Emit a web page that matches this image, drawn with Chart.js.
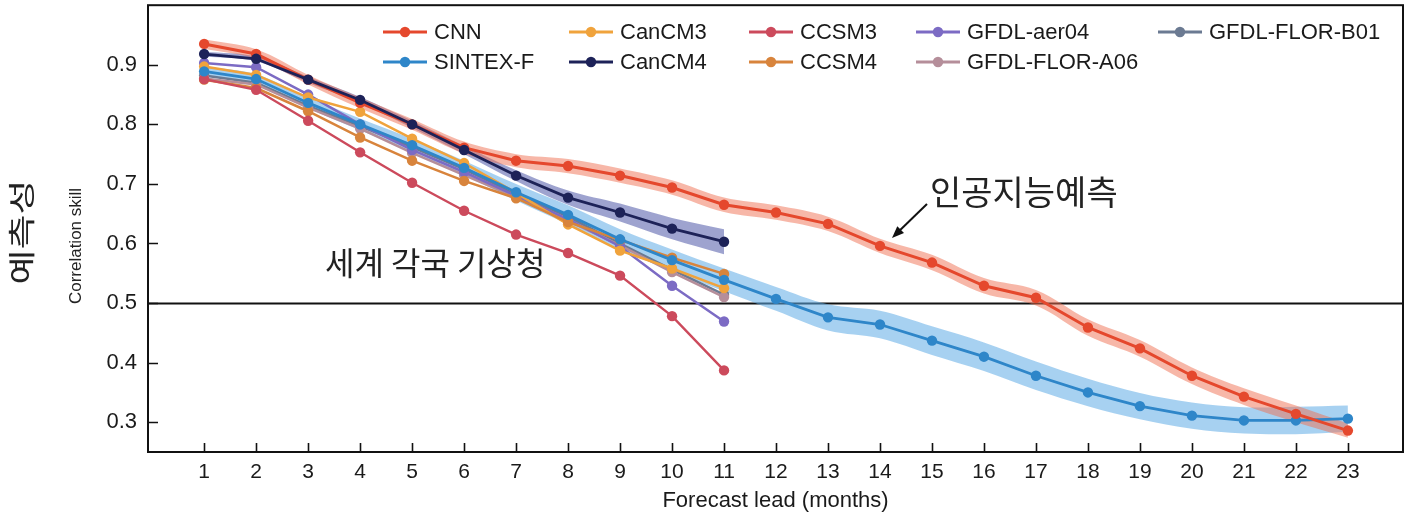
<!DOCTYPE html>
<html lang="ko">
<head>
<meta charset="utf-8">
<script src="https://cdn.jsdelivr.net/npm/chart.js@4.4.1/dist/chart.umd.min.js"></script>
<style>
    html, body { margin: 0; padding: 0; background: #fff; }
    #contenedor { width: 1411px; height: 519px; }
</style>
</head>
<body>
<div id="contenedor"><canvas id="grafico" width="1411" height="519"></canvas></div>
<script>
// Datos
const leads = [1, 2, 3, 4, 5, 6, 7, 8, 9, 10, 11, 12, 13, 14, 15, 16, 17, 18, 19, 20, 21, 22, 23];
const modelLeads = [1, 2, 3, 4, 5, 6, 7, 8, 9, 10, 11];
const leadTicks = [1, 2, 3, 4, 5, 6, 7, 8, 9, 10, 11, 12, 13, 14, 15, 16, 17, 18, 19, 20, 21, 22, 23];
const skillTicks = [0.3, 0.4, 0.5, 0.6, 0.7, 0.8, 0.9];

const cnn = [0.935, 0.918, 0.875, 0.836, 0.800, 0.761, 0.739, 0.730, 0.714, 0.694, 0.665, 0.652, 0.633, 0.596, 0.568, 0.529, 0.509, 0.459, 0.424, 0.378, 0.343, 0.314, 0.286];
const sintexF = [0.889, 0.876, 0.836, 0.800, 0.765, 0.727, 0.686, 0.648, 0.607, 0.572, 0.539, 0.507, 0.476, 0.464, 0.437, 0.410, 0.378, 0.350, 0.327, 0.311, 0.303, 0.303, 0.306];
const canCM3 = [0.897, 0.883, 0.845, 0.821, 0.776, 0.735, 0.685, 0.632, 0.588, 0.558, 0.525];
const canCM4 = [0.918, 0.910, 0.875, 0.841, 0.800, 0.757, 0.714, 0.677, 0.652, 0.625, 0.603];
const ccsm3 = [0.876, 0.858, 0.806, 0.753, 0.702, 0.655, 0.615, 0.584, 0.546, 0.478, 0.387];
const ccsm4 = [0.875, 0.861, 0.822, 0.778, 0.739, 0.705, 0.676, 0.636, 0.606, 0.576, 0.549];
const gfdlAer04 = [0.903, 0.896, 0.850, 0.800, 0.757, 0.720, 0.680, 0.641, 0.595, 0.529, 0.469];
const gfdlFlorA06 = [0.877, 0.867, 0.828, 0.793, 0.752, 0.715, 0.678, 0.638, 0.597, 0.552, 0.510];
const gfdlFlorB01 = [0.882, 0.870, 0.831, 0.797, 0.762, 0.725, 0.683, 0.645, 0.600, 0.556, 0.514];

// Semiancho de las bandas de incertidumbre
const cnnSpread = [0.008, 0.008, 0.008, 0.009, 0.009, 0.010, 0.011, 0.012, 0.012, 0.012, 0.012, 0.012, 0.012, 0.012, 0.013, 0.013, 0.013, 0.014, 0.014, 0.014, 0.014, 0.014, 0.012];
const sintexSpread = [0.008, 0.008, 0.009, 0.010, 0.011, 0.012, 0.014, 0.016, 0.017, 0.018, 0.019, 0.020, 0.022, 0.023, 0.024, 0.024, 0.024, 0.023, 0.022, 0.022, 0.022, 0.023, 0.022];
const canCM4Spread = [0.004, 0.004, 0.005, 0.005, 0.006, 0.007, 0.009, 0.012, 0.015, 0.018, 0.021];

const fuente = "'Liberation Sans', Arial, sans-serif";
const fuenteKr = "'Noto Sans CJK KR', sans-serif";

const series = [
    { label: "CNN", xs: leads, ys: cnn, color: "#e5482d", order: 2, width: 3 },
    { label: "SINTEX-F", xs: leads, ys: sintexF, color: "#2e86c9", order: 3, width: 2.8 },
    { label: "CanCM3", xs: modelLeads, ys: canCM3, color: "#f0a33c", order: 6, width: 2.5 },
    { label: "CanCM4", xs: modelLeads, ys: canCM4, color: "#1d2258", order: 1, width: 2.8 },
    { label: "CCSM3", xs: modelLeads, ys: ccsm3, color: "#cc4a5c", order: 4, width: 2.4 },
    { label: "CCSM4", xs: modelLeads, ys: ccsm4, color: "#d8843c", order: 5, width: 2.5 },
    { label: "GFDL-aer04", xs: modelLeads, ys: gfdlAer04, color: "#7c6bc4", order: 7, width: 2.5 },
    { label: "GFDL-FLOR-A06", xs: modelLeads, ys: gfdlFlorA06, color: "#b58e9a", order: 8, width: 2.5 },
    { label: "GFDL-FLOR-B01", xs: modelLeads, ys: gfdlFlorB01, color: "#6b7a92", order: 9, width: 2.5 }
];

// Orden de la leyenda: columnas de dos filas
const legendOrder = ["CNN", "SINTEX-F", "CanCM3", "CanCM4", "CCSM3", "CCSM4", "GFDL-aer04", "GFDL-FLOR-A06", "GFDL-FLOR-B01"];

const puntos = (xs, ys) => ys.map((v, i) => ({ x: xs[i], y: v }));

const banda = (xs, ys, spread, color) => [
    {
        data: ys.map((v, i) => ({ x: xs[i], y: v - spread[i] })),
        borderWidth: 0,
        pointRadius: 0,
        fill: false,
        tension: 0.35,
        order: 20
    },
    {
        data: ys.map((v, i) => ({ x: xs[i], y: v + spread[i] })),
        borderWidth: 0,
        pointRadius: 0,
        fill: "-1",
        backgroundColor: color,
        tension: 0.35,
        order: 20
    }
];

const datasets = [
    ...banda(leads, cnn, cnnSpread, "rgba(240, 112, 82, 0.5)"),
    ...banda(leads, sintexF, sintexSpread, "rgba(95, 172, 230, 0.55)"),
    ...banda(modelLeads, canCM4, canCM4Spread, "rgba(62, 72, 160, 0.5)"),
    ...series.map(s => ({
        label: s.label,
        data: puntos(s.xs, s.ys),
        borderColor: s.color,
        backgroundColor: s.color,
        borderWidth: s.width,
        pointRadius: 5.2,
        pointBorderWidth: 0,
        pointBackgroundColor: s.color,
        tension: 0,
        fill: false,
        order: s.order
    }))
];

const marcoPlugin = {
    id: "marco",

    beforeDatasetsDraw(chart) {
        const { ctx, chartArea: a, scales: { y } } = chart;
        const y05 = Math.round(y.getPixelForValue(0.5)) + 0.5;

        ctx.save();
        ctx.strokeStyle = "#111";
        ctx.lineWidth = 2;
        ctx.beginPath();
        ctx.moveTo(a.left, y05);
        ctx.lineTo(a.right, y05);
        ctx.stroke();
        ctx.restore();
    },

    afterDraw(chart) {
        const { ctx, chartArea: a, scales: { x, y } } = chart;

        ctx.save();

        // Marco y marcas hacia adentro
        ctx.strokeStyle = "#111";
        ctx.lineWidth = 2;
        ctx.strokeRect(a.left, a.top, a.right - a.left, a.bottom - a.top);

        ctx.beginPath();
        leadTicks.forEach(v => {
            const px = Math.round(x.getPixelForValue(v)) + 0.5;
            ctx.moveTo(px, a.bottom);
            ctx.lineTo(px, a.bottom - 9);
        });
        skillTicks.forEach(v => {
            const py = Math.round(y.getPixelForValue(v)) + 0.5;
            ctx.moveTo(a.left, py);
            ctx.lineTo(a.left + 10, py);
        });
        ctx.lineWidth = 1.6;
        ctx.stroke();

        // Leyenda
        const colX = [383, 569, 749, 916, 1158];
        const rowY = [32, 62];
        ctx.font = `22px ${fuente}`;
        ctx.textBaseline = "middle";
        ctx.textAlign = "left";

        legendOrder.forEach((nombre, i) => {
            const s = series.find(item => item.label === nombre);
            const lx = colX[Math.floor(i / 2)];
            const ly = rowY[i % 2];

            ctx.strokeStyle = s.color;
            ctx.lineWidth = 2.8;
            ctx.beginPath();
            ctx.moveTo(lx, ly);
            ctx.lineTo(lx + 44, ly);
            ctx.stroke();

            ctx.fillStyle = s.color;
            ctx.beginPath();
            ctx.arc(lx + 22, ly, 5.2, 0, Math.PI * 2);
            ctx.fill();

            ctx.fillStyle = "#1a1a1a";
            ctx.fillText(nombre, lx + 51, ly + 1);
        });

        // Título del eje Y
        ctx.save();
        ctx.translate(76, 246);
        ctx.rotate(-Math.PI / 2);
        ctx.font = `17px ${fuente}`;
        ctx.fillStyle = "#222";
        ctx.textAlign = "center";
        ctx.textBaseline = "middle";
        ctx.fillText("Correlation skill", 0, 0);
        ctx.restore();

        // Rótulo coreano del eje
        ctx.save();
        ctx.translate(22, 232);
        ctx.rotate(-Math.PI / 2);
        ctx.scale(1, 0.72);
        ctx.font = `38px ${fuenteKr}`;
        ctx.fillStyle = "#222";
        ctx.textAlign = "center";
        ctx.textBaseline = "middle";
        ctx.fillText("예측성", 0, 0);
        ctx.restore();

        // Anotaciones
        ctx.fillStyle = "#222";
        ctx.textBaseline = "middle";
        ctx.textAlign = "left";
        ctx.font = `32px ${fuenteKr}`;
        ctx.fillText("세계 각국 기상청", 325, 263);
        ctx.font = `34px ${fuenteKr}`;
        ctx.fillText("인공지능예측", 930, 192);

        // Flecha
        const x0 = 927, y0 = 204, x1 = 892, y1 = 238;
        const ang = Math.atan2(y1 - y0, x1 - x0);
        ctx.strokeStyle = "#111";
        ctx.fillStyle = "#111";
        ctx.lineWidth = 2;
        ctx.beginPath();
        ctx.moveTo(x0, y0);
        ctx.lineTo(x1 - 6 * Math.cos(ang), y1 - 6 * Math.sin(ang));
        ctx.stroke();
        ctx.beginPath();
        ctx.moveTo(x1, y1);
        ctx.lineTo(x1 - 13 * Math.cos(ang - 0.38), y1 - 13 * Math.sin(ang - 0.38));
        ctx.lineTo(x1 - 13 * Math.cos(ang + 0.38), y1 - 13 * Math.sin(ang + 0.38));
        ctx.closePath();
        ctx.fill();

        ctx.restore();
    }
};

new Chart(document.getElementById("grafico"), {
    type: "line",
    data: { datasets: datasets },
    options: {
        responsive: false,
        animation: false,
        devicePixelRatio: 1,
        layout: { padding: { top: 5, right: 8, bottom: 0, left: 0 } },
        plugins: {
            legend: { display: false },
            tooltip: { enabled: false }
        },
        scales: {
            x: {
                type: "linear",
                min: -0.08,
                max: 24.06,
                afterBuildTicks: scale => {
                    scale.ticks = leadTicks.map(v => ({ value: v }));
                },
                afterFit: scale => {
                    scale.height = 67;
                    scale.paddingLeft = 0;
                    scale.paddingRight = 0;
                },
                grid: { display: false, drawTicks: false },
                border: { display: false },
                ticks: {
                    autoSkip: false,
                    maxRotation: 0,
                    padding: 8,
                    color: "#1a1a1a",
                    font: { family: fuente, size: 21 }
                },
                title: {
                    display: true,
                    text: "Forecast lead (months)",
                    color: "#1a1a1a",
                    font: { family: fuente, size: 22 },
                    padding: { top: 0, bottom: 5 }
                }
            },
            y: {
                min: 0.25,
                max: 1.0,
                afterBuildTicks: scale => {
                    scale.ticks = skillTicks.map(v => ({ value: v }));
                },
                afterFit: scale => {
                    scale.width = 148;
                    scale.paddingTop = 0;
                    scale.paddingBottom = 0;
                },
                grid: { display: false, drawTicks: false },
                border: { display: false },
                ticks: {
                    padding: 11,
                    color: "#1a1a1a",
                    font: { family: fuente, size: 22 },
                    callback: value => Number(value).toFixed(1)
                }
            }
        }
    },
    plugins: [marcoPlugin]
});
</script>
</body>
</html>
